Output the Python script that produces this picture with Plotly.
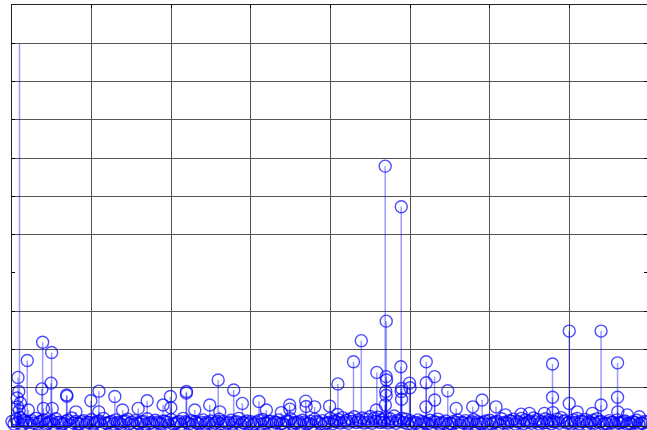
import plotly.graph_objects as go

# ---- data ----
# dense low-level floor, sampled every 0.025 units from 0
floor_step = 0.025
floor_vals = [
    0.12,0.05,0.18,0.09,0.22,0.04,0.15,0.1,0.09,0.03,0.14,0.08,0.2,0.06,0.11,0.13,0.16,0.05,0.08,0.1,
    0.13,0.04,0.19,0.09,0.1,0.05,0.07,0.12,0.15,0.03,0.21,0.08,0.12,0.06,0.06,0.11,0.14,0.04,0.1,0.09,
    0.17,0.05,0.09,0.12,0.13,0.03,0.2,0.07,0.08,0.1,0.12,0.05,0.16,0.09,0.07,0.04,0.11,0.13,0.18,0.06,
    0.1,0.03,0.14,0.08,0.06,0.11,0.12,0.05,0.19,0.07,0.09,0.04,0.15,0.1,0.08,0.06,0.13,0.12,0.1,0.03,
    0.17,0.05,0.07,0.09,0.12,0.04,0.2,0.11,0.09,0.06,0.14,0.03,0.11,0.08,0.06,0.1,0.16,0.05,0.1,0.07,
    0.13,0.04,0.08,0.12,0.18,0.06,0.12,0.03,0.07,0.09,0.15,0.05,0.1,0.11,0.2,0.04,0.09,0.08,0.13,0.06,
    0.11,0.03,0.06,0.1,0.14,0.05,0.17,0.07,0.08,0.12,0.12,0.04,0.1,0.09,0.16,0.06,0.07,0.03,0.13,0.11,
    0.19,0.05,0.09,0.08,0.11,0.04,0.15,0.1,0.06,0.07,0.12,0.03,0.18,0.12,0.1,0.06,0.14,0.05,0.08,0.09,
    0.2,0.06,0.13,0.11,0.17,0.08,0.22,0.1,0.15,0.07,0.19,0.12,0.24,0.09,0.16,0.11,0.21,0.08,0.18,0.1,
    0.25,0.07,0.2,0.12,0.23,0.09,0.17,0.1,0.22,0.08,0.19,0.11,0.26,0.07,0.15,0.12,0.2,0.09,0.18,0.06,
    0.14,0.05,0.1,0.08,0.16,0.04,0.12,0.09,0.08,0.06,0.15,0.03,0.11,0.1,0.18,0.05,0.09,0.07,0.13,0.04,
    0.07,0.06,0.12,0.09,0.16,0.03,0.1,0.08,0.14,0.05,0.08,0.11,0.17,0.04,0.11,0.07,0.06,0.09,0.13,0.05,
    0.15,0.06,0.09,0.1,0.12,0.04,0.19,0.08,0.1,0.07,0.14,0.12,0.18,0.05,0.12,0.09,0.2,0.06,0.16,0.1,
    0.13,0.07,0.21,0.11,0.17,0.05,0.11,0.08,0.19,0.09,0.15,0.06,0.12,0.1,0.18,0.07,0.22,0.12,0.14,0.08,
    0.1,0.05,0.16,0.09,0.2,0.06,0.13,0.11,0.17,0.04,0.11,0.08,0.15,0.07,0.19,0.1,0.12,0.05,0.08,0.06,
    0.14,0.09,0.1,0.04,0.16,0.08,0.09,0.11,0.13,0.05,0.07,0.06,0.11,0.09,0.15,0.04,0.08,0.07,0.12,0.1,
]

# tall first stem (drawn without marker)
spike_x = [0.094]
spike_y = [10.0]

# individual peaks
peak_x = [0.075,0.085,0.065,0.105,0.07,0.09,
          0.192,0.205,0.385,0.375,0.395,0.498,0.49,0.505,
          0.686,0.69,0.803,0.991,1.092,1.09,1.292,1.389,1.585,1.698,
          1.898,1.99,1.995,2.192,2.19,2.296,2.484,2.59,2.61,2.785,
          2.894,3.103,3.195,3.384,3.488,3.49,3.69,3.695,3.802,3.99,
          4.094,4.09,4.29,4.388,4.583,4.576,
          4.688,4.701,4.70,4.705,4.695,4.70,4.69,
          4.89,4.885,4.895,4.89,4.894,4.994,5.0,
          5.204,5.204,5.2,5.308,5.31,5.474,5.58,5.788,5.906,6.08,
          6.2,6.395,6.5,6.688,6.79,6.79,6.795,7.0,7.0,7.1,
          7.29,7.4,7.4,7.607,7.607,7.61,7.73,7.88]
peak_y = [1.27,0.9,0.73,0.6,0.5,0.4,
          1.71,0.42,2.19,0.97,0.46,1.92,1.12,0.46,
          0.81,0.78,0.37,0.66,0.91,0.37,0.77,0.42,0.46,0.66,
          0.55,0.77,0.48,0.9,0.86,0.42,0.55,1.2,0.37,0.94,
          0.59,0.64,0.42,0.35,0.55,0.44,0.65,0.51,0.5,0.52,
          1.1,0.3,1.68,2.23,1.4,0.42,
          6.79,2.74,1.29,1.2,0.9,0.8,0.55,
          5.73,1.55,0.98,0.9,0.7,1.12,1.0,
          1.68,1.13,0.5,1.29,0.68,0.92,0.46,0.5,0.68,0.5,
          0.29,0.31,0.33,0.33,1.62,0.75,0.35,2.48,0.59,0.37,
          0.33,2.48,0.55,1.65,0.75,0.37,0.29,0.24]

floor_x = [i * floor_step for i in range(len(floor_vals))]

all_x = floor_x + peak_x
all_y = floor_vals + peak_y


def stems(xs, ys):
    sx, sy = [], []
    for x, y in zip(xs, ys):
        sx += [x, x, None]
        sy += [0, y, None]
    return sx, sy


fig = go.Figure()

sx, sy = stems(all_x + spike_x, all_y + spike_y)
fig.add_trace(go.Scatter(x=sx, y=sy, mode="lines",
                         line=dict(color="rgba(0,0,255,0.4)", width=1.5),
                         hoverinfo="skip", cliponaxis=False))
fig.add_trace(go.Scatter(x=all_x, y=all_y, mode="markers",
                         marker=dict(symbol="circle-open", size=12,
                                     color="rgba(0,0,255,0.7)",
                                     line=dict(width=1.4, color="rgba(0,0,255,0.7)")),
                         cliponaxis=False))

fig.update_layout(
    width=647, height=430,
    margin=dict(l=12, r=0, t=5, b=4),
    paper_bgcolor="white", plot_bgcolor="white",
    showlegend=False,
)
fig.update_xaxes(range=[0, 7.977], tickvals=[1, 2, 3, 4, 5, 6, 7],
                 showticklabels=False, showgrid=True, gridcolor="#555555",
                 gridwidth=1.3, zeroline=False, showline=True, linecolor="#222222",
                 linewidth=1.3, mirror="ticks", ticks="inside", ticklen=3,
                 tickcolor="black")
fig.update_yaxes(range=[0, 11], tickvals=[1, 2, 3, 5, 6, 7, 8, 9, 10],
                 showticklabels=False, showgrid=True, gridcolor="#555555",
                 gridwidth=1.3, zeroline=False, showline=True, linecolor="#222222",
                 linewidth=1.3, mirror="ticks", ticks="inside", ticklen=3,
                 tickcolor="black",
                 minor=dict(tickmode="array", tickvals=[4], ticks="inside",
                            ticklen=3, tickcolor="black", showgrid=False))

fig.write_html("out.html", config={"displayModeBar": False},
               post_script="document.body.style.margin='0';document.body.style.overflow='hidden';")
